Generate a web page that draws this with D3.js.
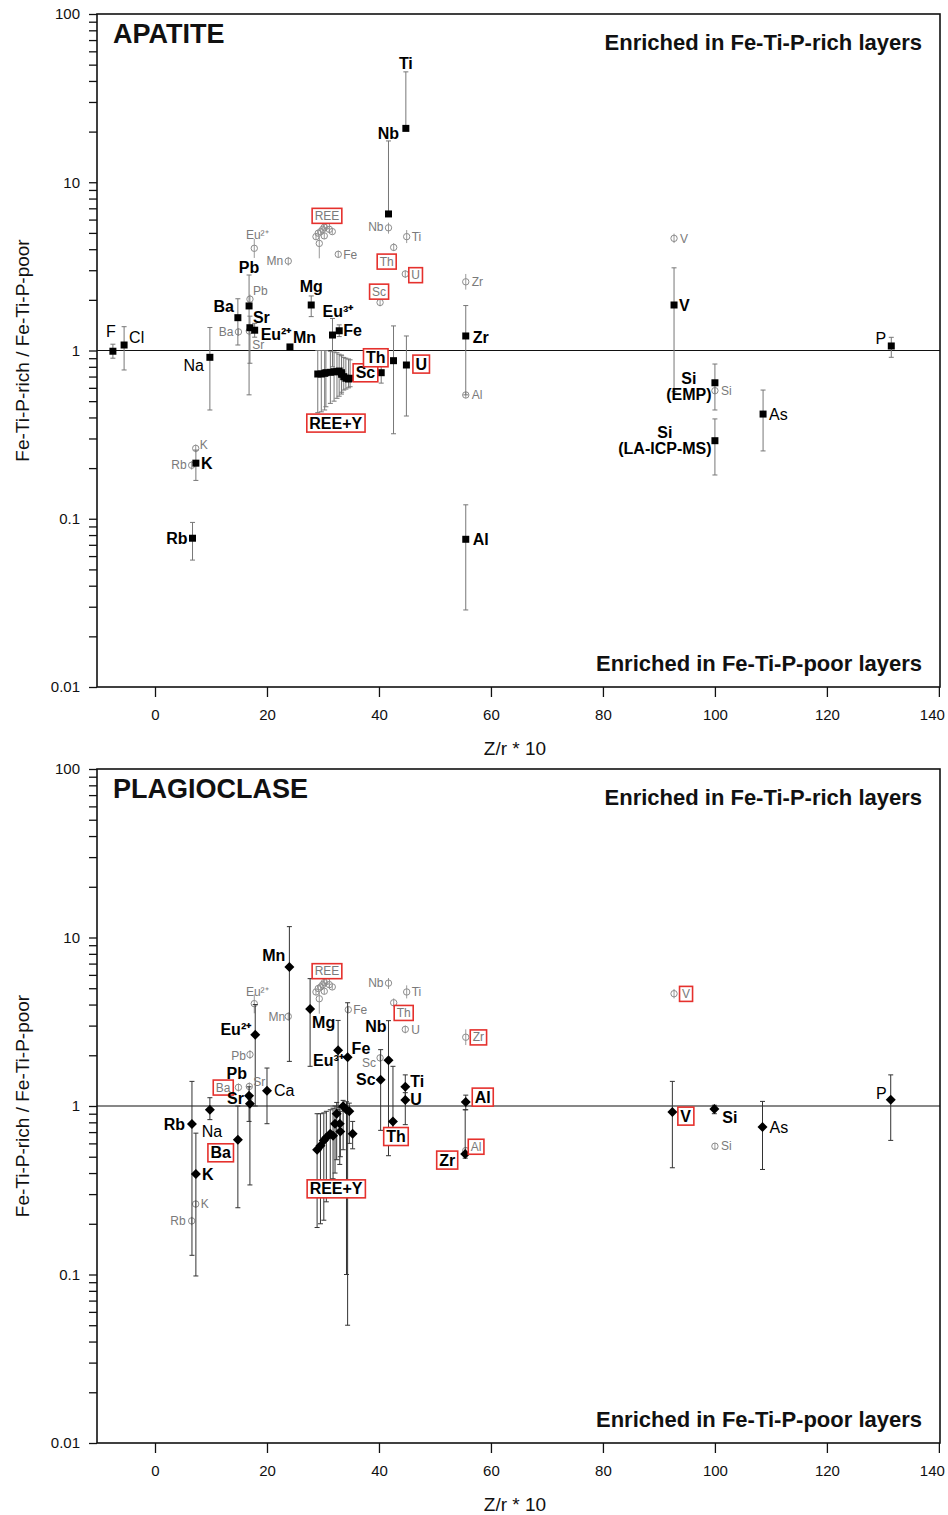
<!DOCTYPE html>
<html><head><meta charset="utf-8">
<script src="https://cdn.jsdelivr.net/npm/d3@7"></script>
<style>
body{margin:0;background:#fff}
svg{display:block;font-family:"Liberation Sans",Arial,Helvetica,sans-serif}
</style>
</head><body>
<svg id="chart" width="948" height="1515"></svg>
<script>
// ---------- axes ----------
const xTicks = [0, 20, 40, 60, 80, 100, 120, 140];
const yTicks = [0.01, 0.1, 1, 10, 100];
const yTickLabels = ["0.01", "0.1", "1", "10", "100"];

// ---------- apatite: ratio of Fe-Ti-P-rich to Fe-Ti-P-poor layers ----------
const apatiteElements = ["F", "Cl", "Na", "Ba", "Pb", "Sr", "Eu²⁺", "Mn", "Mg", "Eu³⁺", "Fe", "Sc", "Th", "U", "Zr", "Nb", "Ti", "Al", "Rb", "K", "V", "P", "Si (EMP)", "Si (LA-ICP-MS)", "As"];
const apatiteZr    = [-7.52, -5.52, 9.80, 14.8, 16.8, 16.95, 17.8, 24.1, 27.9, 31.7, 32.9, 40.4, 42.6, 44.9, 55.5, 41.7, 44.8, 55.5, 6.7, 7.3, 92.7, 131.5, 100, 100, 108.6];
const apatiteRatio = [0.99, 1.078, 0.911, 1.567, 1.84, 1.366, 1.32, 1.05, 1.864, 1.236, 1.31, 0.738, 0.87, 0.82, 1.22, 6.48, 20.9, 0.0755, 0.0766, 0.214, 1.864, 1.064, 0.643, 0.291, 0.419];
const apatiteLow   = [0.90, 0.766, 0.443, 1.078, 0.545, 0.84, 1.2, null, 1.59, 0.8, 1.21, 0.64, 0.32, 0.408, 0.545, null, null, 0.0287, 0.0568, 0.169, 0.569, 0.911, 0.443, 0.182, 0.253];
const apatiteHigh  = [1.09, 1.385, 1.37, 2.03, 2.81, 1.6, 1.45, null, 2.11, 1.55, 1.42, 0.84, 1.40, 1.22, 1.85, 17.6, 45.3, 0.121, 0.0951, 0.256, 3.10, 1.198, 0.831, 0.392, 0.582];

const apatiteReeZr    = [29.07, 29.70, 30.30, 30.52, 31.32, 31.98, 32.50, 32.89, 33.30, 33.33, 33.71, 34.09, 34.56, 34.84];
const apatiteReeRatio = [0.725, 0.725, 0.732, 0.738, 0.742, 0.748, 0.748, 0.755, 0.738, 0.722, 0.699, 0.684, 0.677, 0.684];
const apatiteReeLow   = [0.427, 0.432, 0.443, 0.463, 0.485, 0.50, 0.52, 0.535, 0.551, 0.565, 0.582, 0.59, 0.60, 0.609];
const apatiteReeHigh  = [1.0, 1.0, 1.0, 1.0, 0.99, 0.98, 0.97, 0.95, 0.94, 0.93, 0.91, 0.90, 0.89, 0.88];

// ---------- plagioclase ----------
const plagElements = ["Mn", "Eu²⁺", "Pb", "Sr", "Ca", "Rb", "Na", "Ba", "K", "Mg", "Eu³⁺", "Fe", "Sc", "Nb", "Th", "Ti", "U", "Al", "Zr", "V", "Si", "As", "P"];
const plagZr    = [24.0, 17.9, 16.8, 16.95, 20.0, 6.6, 9.8, 14.8, 7.3, 27.7, 32.7, 34.4, 40.3, 41.7, 42.5, 44.7, 44.7, 55.5, 55.4, 92.4, 99.9, 108.5, 131.4];
const plagRatio = [6.69, 2.65, 1.15, 1.03, 1.23, 0.782, 0.95, 0.631, 0.395, 3.76, 2.14, 1.95, 1.43, 1.87, 0.81, 1.30, 1.085, 1.056, 0.519, 0.921, 0.96, 0.75, 1.09];
const plagLow   = [1.84, 1.0, 0.81, 0.34, 0.785, 0.13, 0.83, 0.249, 0.098, 1.72, 0.95, 0.05, 0.717, 0.507, 0.63, 1.1, 0.775, 0.95, 0.49, 0.43, 0.90, 0.42, 0.625];
const plagHigh  = [11.6, 4.0, 1.3, 1.1, 1.68, 1.40, 1.12, 1.0, 0.69, 5.70, 3.22, 4.1, 2.16, 3.21, 1.72, 1.53, 1.2, 1.16, 0.95, 1.40, 1.01, 1.065, 1.53];

const plagReeZr    = [28.95, 29.55, 30.15, 30.6, 31.3, 31.8, 32.15, 32.45, 33.0, 33.1, 33.6, 34.2, 34.7, 35.3];
const plagReeRatio = [0.55, 0.58, 0.625, 0.65, 0.685, 0.665, 0.785, 0.90, 0.785, 0.705, 0.995, 0.95, 0.93, 0.685];
const plagReeLow   = [0.19, 0.20, 0.21, 0.27, 0.30, 0.37, 0.40, 0.48, 0.45, 0.50, 0.55, 0.10, 0.60, 0.557];
const plagReeHigh  = [0.90, 0.90, 0.91, 0.93, 0.95, 0.97, 1.0, 1.05, 0.98, 0.93, 1.08, 1.06, 1.04, 0.81];

// ---------- whole-rock ratios (grey open circles) ----------
const bulkElements = ["Eu²⁺", "Mn", "Pb", "Ba", "Sr", "K", "Rb", "Fe", "Nb", "Ti", "Th", "U", "Sc", "Zr", "Al", "V", "Si"];
const bulkZrApatite     = [17.73, 23.8, 16.96, 14.9, 16.84, 7.27, 6.55, 32.73, 41.7, 44.95, 42.63, 44.7, 40.2, 55.5, 55.5, 92.7, 100];
const bulkZrPlagioclase = [17.73, 23.8, 16.96, 14.9, 16.84, 7.27, 6.55, 34.52, 41.7, 44.95, 42.63, 44.7, 40.2, 55.5, 55.5, 92.7, 100];
const bulkRatio = [4.05, 3.4, 2.02, 1.29, 1.306, 0.262, 0.208, 3.73, 5.36, 4.75, 4.1, 2.85, 1.93, 2.56, 0.544, 4.64, 0.577];
const bulkLow   = [3.55, 3.2, 1.9, 1.22, 1.23, 0.248, 0.196, 3.55, 4.95, 4.35, 3.9, 2.7, 1.83, 2.3, 0.52, 4.35, 0.55];
const bulkHigh  = [4.6, 3.6, 2.15, 1.36, 1.38, 0.276, 0.22, 3.92, 5.75, 5.2, 4.35, 3.0, 2.03, 2.85, 0.57, 4.95, 0.605];

const bulkReeZr    = [28.75, 29.16, 29.34, 29.59, 29.95, 30.23, 30.23, 30.66, 31.13, 31.66];
const bulkReeRatio = [4.75, 4.98, 4.33, 5.09, 5.25, 5.40, 4.8, 5.49, 5.25, 5.09];
const bulkReeLow   = [4.55, 4.78, 3.53, 4.9, 5.05, 5.2, 4.6, 5.3, 5.05, 4.9];
const bulkReeHigh  = [4.95, 5.18, 4.75, 5.28, 5.45, 5.6, 5.0, 5.7, 5.45, 5.28];

// ---------- label placement (offsets from the marker, px) ----------
const apatiteLabelLayout = {
  "F": [-2, -20, "middle"], "Cl": [5, -8, "start"], "Na": [-6, 8, "end"], "Ba": [-4, -11, "end"],
  "Pb": [0, -39, "middle"], "Sr": [3, -10, "start"], "Eu²⁺": [6, 4, "start"], "Mn": [3, -10, "start"],
  "Mg": [0, -19, "middle"], "Eu³⁺": [-10, -24, "start"], "Fe": [4, 0, "start"], "Sc": [-6, 0, "end"],
  "Th": [-8, -3, "end"], "U": [9, -1, "start"], "Zr": [7, 1, "start"], "Nb": [0, -81, "middle"],
  "Ti": [0, -65, "middle"], "Al": [7, 0, "start"], "Rb": [-5, 0, "end"], "K": [5, 0, "start"],
  "V": [5, 0, "start"], "P": [-5, -8, "end"], "Si (EMP)": [-26, 4, "middle"],
  "Si (LA-ICP-MS)": [-50, 0, "middle"], "As": [6, 0, "start"]
};
const apatiteBoxed = ["Sc", "Th", "U"];

const plagLabelLayout = {
  "Mn": [-4, -12, "end"], "Eu²⁺": [-4, -5, "end"], "Pb": [-2, -22, "end"], "Sr": [-6, -5, "end"],
  "Ca": [7, 0, "start"], "Rb": [-7, 0, "end"], "Na": [2, 22, "middle"], "Ba": [-7, 13, "end"],
  "K": [6, 0, "start"], "Mg": [2, 13, "start"], "Eu³⁺": [-25, 10, "start"], "Fe": [4, -9, "start"],
  "Sc": [-5, 0, "end"], "Nb": [-2, -34, "end"], "Th": [3, 15, "middle"], "Ti": [5, -5, "start"],
  "U": [5, -1, "start"], "Al": [9, -5, "start"], "Zr": [-10, 6, "end"], "V": [8, 4, "start"],
  "Si": [8, 8, "start"], "As": [7, 0, "start"], "P": [-4, -6, "end"]
};
const plagBoxed = ["Ba", "Th", "Al", "Zr", "V"];

const bulkLabelLayoutApatite = {
  "Eu²⁺": [3, -13, "middle"], "Mn": [-5, 0, "end"], "Pb": [3, -8, "start"], "Ba": [-5, 0, "end"],
  "Sr": [3, 14, "start"], "K": [4, -4, "start"], "Rb": [-5, 0, "end"], "Fe": [5, 0, "start"],
  "Nb": [-5, -1, "end"], "Ti": [5, 0, "start"], "Th": [-7, 14, "middle"], "U": [6, 1, "start"],
  "Sc": [-1, -11, "middle"], "Zr": [6, 0, "start"], "Al": [6, 0, "start"], "V": [6, 0, "start"],
  "Si": [6, 0, "start"]
};
const bulkBoxedApatite = ["Th", "U", "Sc"];
const bulkLabelLayoutPlag = {
  "Eu²⁺": [3, -12, "middle"], "Mn": [-3, 0, "end"], "Pb": [-4, 1, "end"], "Ba": [-8, 0, "end"],
  "Sr": [4, -5, "start"], "K": [5, 0, "start"], "Rb": [-6, 0, "end"], "Fe": [5, 0, "start"],
  "Nb": [-5, 0, "end"], "Ti": [5, 0, "start"], "Th": [10, 10, "middle"], "U": [6, 0, "start"],
  "Sc": [-4, 5, "end"], "Zr": [7, 0, "start"], "Al": [5, -4, "start"], "V": [8, 0, "start"],
  "Si": [6, 0, "start"]
};
const bulkBoxedPlag = ["Ba", "Th", "Zr", "Al", "V"];

const regularWeight = ["F", "Cl", "Na", "As", "P", "Ca"];

// ---------- drawing ----------
const svg = d3.select("#chart");
const FONT = '"Liberation Sans", Arial, Helvetica, sans-serif';
const RED = "#e5312d";

const x = d3.scaleLinear().domain([-10.36, 140.2]).range([97, 940]);

// diamond marker as a custom d3 symbol type
const diamondType = {
  draw(ctx, size) {
    const r = Math.sqrt(size) / 2;
    ctx.moveTo(0, -r); ctx.lineTo(r, 0); ctx.lineTo(0, r); ctx.lineTo(-r, 0); ctx.closePath();
  }
};

function zip(names, xs, ys, lo, hi) {
  return names.map((n, i) => ({ name: n, zr: xs[i], v: ys[i], lo: lo ? lo[i] : null, hi: hi ? hi[i] : null }));
}

function addBox(g, textSel) {
  const bb = textSel.node().getBBox();
  g.insert("rect", () => textSel.node())
    .attr("x", bb.x - 2.5).attr("y", bb.y - 0.5)
    .attr("width", bb.width + 5).attr("height", bb.height + 1)
    .attr("fill", "#fff").attr("stroke", RED).attr("stroke-width", 1.6);
}

function drawLabel(g, px, py, text, dx, dy, anchor, opts) {
  const lines = text.split("\n");
  const t = g.append("text")
    .attr("x", px + dx).attr("y", py + dy)
    .attr("text-anchor", anchor)
    .attr("font-size", opts.size)
    .attr("font-weight", opts.weight)
    .attr("fill", opts.color);
  lines.forEach((ln, i) => {
    t.append("tspan").attr("x", px + dx)
      .attr("dy", i === 0 ? (0.35 - (lines.length - 1) * 0.5) + "em" : "1.0em")
      .text(ln);
  });
  if (opts.box) addBox(g, t);
  return t;
}

function errorBar(g, px, y, lo, hi, v, color, cap) {
  const y0 = y(lo != null ? lo : v), y1 = y(hi != null ? hi : v);
  g.append("line").attr("x1", px).attr("x2", px).attr("y1", y0).attr("y2", y1)
    .attr("stroke", color).attr("stroke-width", 1);
  [[lo, y0], [hi, y1]].forEach(([val, yy]) => {
    if (val != null && cap > 0)
      g.append("line").attr("x1", px - cap).attr("x2", px + cap).attr("y1", yy).attr("y2", yy)
        .attr("stroke", color).attr("stroke-width", 1);
  });
}

function panel(cfg) {
  const { top, bottom } = cfg;
  const y = d3.scaleLog().domain([0.01, 100]).range([bottom, top]);
  const g = svg.append("g");

  // reference line at ratio = 1
  g.append("line").attr("x1", x.range()[0]).attr("x2", x.range()[1])
    .attr("y1", y(1)).attr("y2", y(1)).attr("stroke", "#111").attr("stroke-width", 1.1);

  // y axis with minor ticks
  const minor = [];
  for (let e = -2; e < 2; e++) for (let m = 1; m < 10; m++) minor.push(m * Math.pow(10, e));
  minor.push(100);
  const yAxis = d3.axisLeft(y).tickValues(minor).tickSize(8).tickPadding(9)
    .tickFormat(d => { const i = yTicks.findIndex(t => Math.abs(t - d) / t < 1e-9); return i >= 0 ? yTickLabels[i] : ""; });
  const ya = g.append("g").attr("transform", `translate(${x.range()[0]},0)`).call(yAxis);
  ya.select(".domain").remove();
  ya.selectAll("line").attr("stroke", "#111").attr("stroke-width", 1.3);
  ya.selectAll("text").attr("font-size", 15).attr("font-family", FONT).attr("fill", "#111");

  // x axis
  const xAxis = d3.axisBottom(x).tickValues(xTicks).tickSize(10).tickPadding(12).tickFormat(d3.format("d"));
  const xa = g.append("g").attr("transform", `translate(0,${bottom})`).call(xAxis);
  xa.select(".domain").remove();
  xa.selectAll("line").attr("stroke", "#111").attr("stroke-width", 1.3);
  xa.selectAll("text").attr("font-size", 15).attr("font-family", FONT).attr("fill", "#111")
    .attr("dx", d => d === xTicks[xTicks.length - 1] ? -7 : 0);

  // frame
  g.append("rect").attr("x", x.range()[0]).attr("y", top)
    .attr("width", x.range()[1] - x.range()[0]).attr("height", bottom - top)
    .attr("fill", "none").attr("stroke", "#111").attr("stroke-width", 1.6);

  // axis titles
  g.append("text").attr("x", 515).attr("y", bottom + 61).attr("text-anchor", "middle")
    .attr("dominant-baseline", "central").attr("font-size", 19).attr("fill", "#111").text("Z/r * 10");
  g.append("text").attr("transform", `translate(22,${(top + bottom) / 2}) rotate(-90)`)
    .attr("text-anchor", "middle").attr("dominant-baseline", "central")
    .attr("font-size", 19).attr("fill", "#111").text("Fe-Ti-P-rich / Fe-Ti-P-poor");

  // panel headings
  g.append("text").attr("x", 113).attr("y", top + 29).attr("font-size", 27).attr("font-weight", "bold")
    .attr("fill", "#111").text(cfg.title);
  g.append("text").attr("x", 922).attr("y", top + 36).attr("text-anchor", "end").attr("font-size", 22)
    .attr("font-weight", "bold").attr("fill", "#111").text("Enriched in Fe-Ti-P-rich layers");
  g.append("text").attr("x", 922).attr("y", bottom - 16).attr("text-anchor", "end").attr("font-size", 22)
    .attr("font-weight", "bold").attr("fill", "#111").text("Enriched in Fe-Ti-P-poor layers");

  const marks = g.append("g");
  const labels = g.append("g");

  // whole-rock grey circles
  const grey = "#8c8c8c";
  const bulk = zip(bulkElements, cfg.bulkZr, bulkRatio, bulkLow, bulkHigh);
  const bulkRee = zip(bulkReeZr.map(() => "REE"), bulkReeZr, bulkReeRatio, bulkReeLow, bulkReeHigh);
  bulk.concat(bulkRee).forEach(d => {
    const px = x(d.zr);
    errorBar(marks, px, y, d.lo, d.hi, d.v, "#9a9a9a", 0);
    marks.append("circle").attr("cx", px).attr("cy", y(d.v)).attr("r", 3.2)
      .attr("fill", "none").attr("stroke", grey).attr("stroke-width", 1);
  });
  bulk.forEach(d => {
    const [dx, dy, anchor] = cfg.bulkLayout[d.name];
    drawLabel(labels, x(d.zr), y(d.v), d.name, dx, dy, anchor,
      { size: 12, weight: "normal", color: "#7a7a7a", box: cfg.bulkBoxed.includes(d.name) });
  });
  drawLabel(labels, x(bulkRee[0].zr), y(bulkRee[0].v), "REE", 11, -21, "middle",
    { size: 12, weight: "normal", color: "#7a7a7a", box: true });

  // mineral ratios
  const main = zip(cfg.names, cfg.zr, cfg.ratio, cfg.low, cfg.high);
  const ree = zip(cfg.reeZr.map(() => "REE+Y"), cfg.reeZr, cfg.reeRatio, cfg.reeLow, cfg.reeHigh);
  const sym = d3.symbol().type(cfg.symbol).size(cfg.symbolSize);
  main.concat(ree).forEach(d => errorBar(marks, x(d.zr), y, d.lo, d.hi, d.v, cfg.barColor, 2.5));
  main.concat(ree).forEach(d => {
    marks.append("path").attr("d", sym).attr("transform", `translate(${x(d.zr)},${y(d.v)})`).attr("fill", "#000");
  });
  main.forEach(d => {
    const [dx, dy, anchor] = cfg.layout[d.name];
    const txt = d.name.replace(" (", "\n(");
    drawLabel(labels, x(d.zr), y(d.v), txt, dx, dy, anchor,
      { size: 16, weight: regularWeight.includes(d.name) ? "normal" : "bold", color: "#000", box: cfg.boxed.includes(d.name) });
  });
  drawLabel(labels, x(ree[0].zr), y(ree[0].v), "REE+Y", cfg.reeLabel[0], cfg.reeLabel[1], "middle",
    { size: 16, weight: "bold", color: "#000", box: true });
}

panel({
  top: 14, bottom: 687, title: "APATITE",
  names: apatiteElements, zr: apatiteZr, ratio: apatiteRatio, low: apatiteLow, high: apatiteHigh,
  reeZr: apatiteReeZr, reeRatio: apatiteReeRatio, reeLow: apatiteReeLow, reeHigh: apatiteReeHigh,
  layout: apatiteLabelLayout, boxed: apatiteBoxed, reeLabel: [18, 49],
  bulkZr: bulkZrApatite, bulkLayout: bulkLabelLayoutApatite, bulkBoxed: bulkBoxedApatite,
  symbol: d3.symbolSquare, symbolSize: 49, barColor: "#777"
});
panel({
  top: 769, bottom: 1443, title: "PLAGIOCLASE",
  names: plagElements, zr: plagZr, ratio: plagRatio, low: plagLow, high: plagHigh,
  reeZr: plagReeZr, reeRatio: plagReeRatio, reeLow: plagReeLow, reeHigh: plagReeHigh,
  layout: plagLabelLayout, boxed: plagBoxed, reeLabel: [19, 39],
  bulkZr: bulkZrPlagioclase, bulkLayout: bulkLabelLayoutPlag, bulkBoxed: bulkBoxedPlag,
  symbol: diamondType, symbolSize: 100, barColor: "#333"
});
</script>
</body></html>
